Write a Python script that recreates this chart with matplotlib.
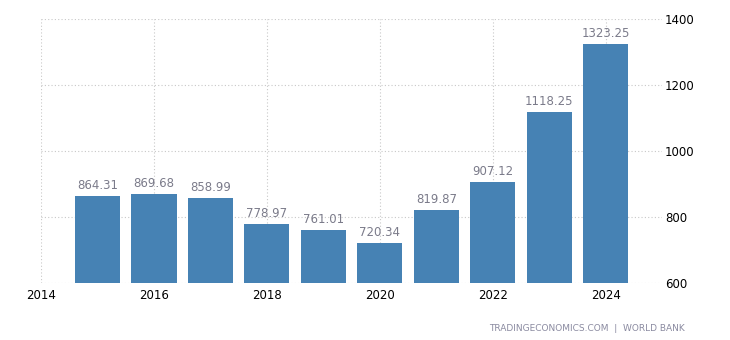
import matplotlib
matplotlib.use("Agg")
import matplotlib.pyplot as plt

years = [2015, 2016, 2017, 2018, 2019, 2020, 2021, 2022, 2023, 2024]
values = [864.31, 869.68, 858.99, 778.97, 761.01, 720.34, 819.87, 907.12, 1118.25, 1323.25]
xticks = [2014, 2016, 2018, 2020, 2022, 2024]
yticks = [600, 800, 1000, 1200, 1400]

plt.rcParams['font.family'] = ['DejaVu Sans']

fig = plt.figure(figsize=(7.3, 3.4), dpi=100)
ax = fig.add_axes([0.0562, 0.1676, 0.8508, 0.7765])

ax.bar(years, values, width=0.8, color='#4682b4', zorder=2)
for x, v in zip(years, values):
    ax.text(x, v + 12, f"{v:.2f}", ha='center', va='bottom', fontsize=8.5, color='#7b7b8a')

ax.set_xlim(2014, 2025)
ax.set_ylim(600, 1400)
ax.set_xticks(xticks)
ax.set_yticks(yticks)
ax.yaxis.tick_right()
ax.tick_params(length=0, labelsize=8.5, colors='black', pad=4)
ax.tick_params(axis='y', pad=2)
for s in ax.spines.values():
    s.set_visible(False)
ax.grid(True, linestyle=(0, (1, 2)), color='#c8c8c8', linewidth=0.8, zorder=0)

fig.text(0.938, 0.035, "TRADINGECONOMICS.COM  |  WORLD BANK", ha='right', va='center',
         fontsize=6.5, color='#8a8aa0')

fig.savefig("out.png", dpi=100)
